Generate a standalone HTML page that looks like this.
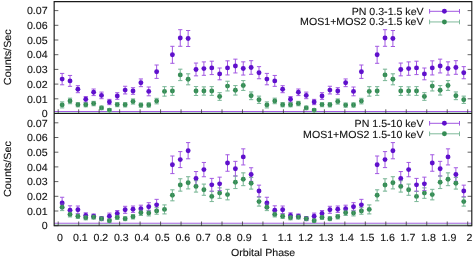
<!DOCTYPE html>
<html><head><meta charset="utf-8"><title>Orbital Phase Light Curves</title>
<style>html,body{margin:0;padding:0;background:#fff;}body{width:473px;height:257px;overflow:hidden;font-family:"Liberation Sans",sans-serif;}</style>
</head><body>
<svg width="473" height="257" viewBox="0 0 473 257" style="display:block;will-change:transform">
<rect width="473" height="257" fill="#fff"/>
<path d="M54.15 111.45H471.8" stroke="#a258e2" stroke-width="1.05"/>
<path d="M54.15 112.5H471.8" stroke="#b9dcc8" stroke-width="1"/>
<path d="M54.15 223.3H471.8" stroke="#a258e2" stroke-width="1.05"/>
<path d="M54.15 224.4H471.8" stroke="#b9dcc8" stroke-width="1"/>
<path d="M62.14 101.90V107.90M60.04 101.90h4.2M60.04 107.90h4.2M70.01 98.20V103.70M67.91 98.20h4.2M67.91 103.70h4.2M77.89 102.60V106.80M75.79 102.60h4.2M75.79 106.80h4.2M85.76 102.60V106.80M83.66 102.60h4.2M83.66 106.80h4.2M93.64 101.35V105.75M91.54 101.35h4.2M91.54 105.75h4.2M101.51 106.10V109.70M99.41 106.10h4.2M99.41 109.70h4.2M109.39 108.60V111.60M107.29 108.60h4.2M107.29 111.60h4.2M117.26 102.50V106.70M115.16 102.50h4.2M115.16 106.70h4.2M125.14 102.70V106.90M123.04 102.70h4.2M123.04 106.90h4.2M133.01 98.95V104.05M130.91 98.95h4.2M130.91 104.05h4.2M140.89 103.00V107.20M138.79 103.00h4.2M138.79 107.20h4.2M148.76 102.90V107.10M146.66 102.90h4.2M146.66 107.10h4.2M156.64 98.35V103.85M154.54 98.35h4.2M154.54 103.85h4.2M164.51 86.65V96.15M162.41 86.65h4.2M162.41 96.15h4.2M172.39 86.60V95.40M170.29 86.60h4.2M170.29 95.40h4.2M180.26 69.20V80.60M178.16 69.20h4.2M178.16 80.60h4.2M188.14 73.80V84.80M186.04 73.80h4.2M186.04 84.80h4.2M196.01 86.50V95.50M193.91 86.50h4.2M193.91 95.50h4.2M203.89 86.85V95.15M201.79 86.85h4.2M201.79 95.15h4.2M211.76 86.60V95.40M209.66 86.60h4.2M209.66 95.40h4.2M219.64 92.65V100.35M217.54 92.65h4.2M217.54 100.35h4.2M227.51 81.25V90.95M225.41 81.25h4.2M225.41 90.95h4.2M235.39 85.55V95.05M233.29 85.55h4.2M233.29 95.05h4.2M243.26 80.55V90.45M241.16 80.55h4.2M241.16 90.45h4.2M251.14 91.95V99.65M249.04 91.95h4.2M249.04 99.65h4.2M259.01 96.15V103.45M256.91 96.15h4.2M256.91 103.45h4.2M266.89 101.90V107.90M264.79 101.90h4.2M264.79 107.90h4.2M274.76 98.20V103.70M272.66 98.20h4.2M272.66 103.70h4.2M282.64 102.60V106.80M280.54 102.60h4.2M280.54 106.80h4.2M290.51 102.60V106.80M288.41 102.60h4.2M288.41 106.80h4.2M298.39 101.35V105.75M296.29 101.35h4.2M296.29 105.75h4.2M306.26 106.10V109.70M304.16 106.10h4.2M304.16 109.70h4.2M314.14 108.60V111.60M312.04 108.60h4.2M312.04 111.60h4.2M322.01 102.50V106.70M319.91 102.50h4.2M319.91 106.70h4.2M329.89 102.70V106.90M327.79 102.70h4.2M327.79 106.90h4.2M337.76 98.95V104.05M335.66 98.95h4.2M335.66 104.05h4.2M345.64 103.00V107.20M343.54 103.00h4.2M343.54 107.20h4.2M353.51 102.90V107.10M351.41 102.90h4.2M351.41 107.10h4.2M361.39 98.35V103.85M359.29 98.35h4.2M359.29 103.85h4.2M369.26 86.65V96.15M367.16 86.65h4.2M367.16 96.15h4.2M377.14 86.60V95.40M375.04 86.60h4.2M375.04 95.40h4.2M385.01 69.20V80.60M382.91 69.20h4.2M382.91 80.60h4.2M392.89 73.80V84.80M390.79 73.80h4.2M390.79 84.80h4.2M400.76 86.50V95.50M398.66 86.50h4.2M398.66 95.50h4.2M408.64 86.85V95.15M406.54 86.85h4.2M406.54 95.15h4.2M416.51 86.60V95.40M414.41 86.60h4.2M414.41 95.40h4.2M424.39 92.65V100.35M422.29 92.65h4.2M422.29 100.35h4.2M432.26 81.25V90.95M430.16 81.25h4.2M430.16 90.95h4.2M440.14 85.55V95.05M438.04 85.55h4.2M438.04 95.05h4.2M448.01 80.55V90.45M445.91 80.55h4.2M445.91 90.45h4.2M455.89 91.95V99.65M453.79 91.95h4.2M453.79 99.65h4.2M463.76 96.15V103.45M461.66 96.15h4.2M461.66 103.45h4.2" stroke="#7fba9b" stroke-width="1" fill="none"/><path d="M62.14 73.40V84.80M60.04 73.40h4.2M60.04 84.80h4.2M70.01 75.45V86.35M67.91 75.45h4.2M67.91 86.35h4.2M77.89 85.70V92.70M75.79 85.70h4.2M75.79 92.70h4.2M85.76 96.55V102.05M83.66 96.55h4.2M83.66 102.05h4.2M93.64 89.00V95.60M91.54 89.00h4.2M91.54 95.60h4.2M101.51 92.10V98.70M99.41 92.10h4.2M99.41 98.70h4.2M109.39 99.35V104.65M107.29 99.35h4.2M107.29 104.65h4.2M117.26 92.70V99.30M115.16 92.70h4.2M115.16 99.30h4.2M125.14 86.25V93.95M123.04 86.25h4.2M123.04 93.95h4.2M133.01 87.70V94.30M130.91 87.70h4.2M130.91 94.30h4.2M140.89 78.95V86.65M138.79 78.95h4.2M138.79 86.65h4.2M148.76 87.00V95.80M146.66 87.00h4.2M146.66 95.80h4.2M156.64 65.00V78.40M154.54 65.00h4.2M154.54 78.40h4.2M172.39 46.30V63.30M170.29 46.30h4.2M170.29 63.30h4.2M180.26 29.70V46.30M178.16 29.70h4.2M178.16 46.30h4.2M188.14 30.50V46.50M186.04 30.50h4.2M186.04 46.50h4.2M196.01 63.05V75.85M193.91 63.05h4.2M193.91 75.85h4.2M203.89 61.90V75.30M201.79 61.90h4.2M201.79 75.30h4.2M211.76 61.20V74.60M209.66 61.20h4.2M209.66 74.60h4.2M219.64 68.00V79.80M217.54 68.00h4.2M217.54 79.80h4.2M227.51 60.85V74.95M225.41 60.85h4.2M225.41 74.95h4.2M235.39 59.15V72.95M233.29 59.15h4.2M233.29 72.95h4.2M243.26 61.85V75.05M241.16 61.85h4.2M241.16 75.05h4.2M251.14 60.70V74.30M249.04 60.70h4.2M249.04 74.30h4.2M259.01 66.65V78.75M256.91 66.65h4.2M256.91 78.75h4.2M266.89 73.40V84.80M264.79 73.40h4.2M264.79 84.80h4.2M274.76 75.45V86.35M272.66 75.45h4.2M272.66 86.35h4.2M282.64 85.70V92.70M280.54 85.70h4.2M280.54 92.70h4.2M290.51 96.55V102.05M288.41 96.55h4.2M288.41 102.05h4.2M298.39 89.00V95.60M296.29 89.00h4.2M296.29 95.60h4.2M306.26 92.10V98.70M304.16 92.10h4.2M304.16 98.70h4.2M314.14 99.35V104.65M312.04 99.35h4.2M312.04 104.65h4.2M322.01 92.70V99.30M319.91 92.70h4.2M319.91 99.30h4.2M329.89 86.25V93.95M327.79 86.25h4.2M327.79 93.95h4.2M337.76 87.70V94.30M335.66 87.70h4.2M335.66 94.30h4.2M345.64 78.95V86.65M343.54 78.95h4.2M343.54 86.65h4.2M353.51 87.00V95.80M351.41 87.00h4.2M351.41 95.80h4.2M361.39 65.00V78.40M359.29 65.00h4.2M359.29 78.40h4.2M377.14 46.30V63.30M375.04 46.30h4.2M375.04 63.30h4.2M385.01 29.70V46.30M382.91 29.70h4.2M382.91 46.30h4.2M392.89 30.50V46.50M390.79 30.50h4.2M390.79 46.50h4.2M400.76 63.05V75.85M398.66 63.05h4.2M398.66 75.85h4.2M408.64 61.90V75.30M406.54 61.90h4.2M406.54 75.30h4.2M416.51 61.20V74.60M414.41 61.20h4.2M414.41 74.60h4.2M424.39 68.00V79.80M422.29 68.00h4.2M422.29 79.80h4.2M432.26 60.85V74.95M430.16 60.85h4.2M430.16 74.95h4.2M440.14 59.15V72.95M438.04 59.15h4.2M438.04 72.95h4.2M448.01 61.85V75.05M445.91 61.85h4.2M445.91 75.05h4.2M455.89 60.70V74.30M453.79 60.70h4.2M453.79 74.30h4.2M463.76 66.65V78.75M461.66 66.65h4.2M461.66 78.75h4.2" stroke="#a258e2" stroke-width="1" fill="none"/><g fill="#5f10cc"><circle cx="62.14" cy="79.10" r="2.45"/><circle cx="70.01" cy="80.90" r="2.45"/><circle cx="77.89" cy="89.20" r="2.45"/><circle cx="85.76" cy="99.30" r="2.45"/><circle cx="93.64" cy="92.30" r="2.45"/><circle cx="101.51" cy="95.40" r="2.45"/><circle cx="109.39" cy="102.00" r="2.45"/><circle cx="117.26" cy="96.00" r="2.45"/><circle cx="125.14" cy="90.10" r="2.45"/><circle cx="133.01" cy="91.00" r="2.45"/><circle cx="140.89" cy="82.80" r="2.45"/><circle cx="148.76" cy="91.40" r="2.45"/><circle cx="156.64" cy="71.70" r="2.45"/><circle cx="172.39" cy="54.80" r="2.45"/><circle cx="180.26" cy="38.00" r="2.45"/><circle cx="188.14" cy="38.50" r="2.45"/><circle cx="196.01" cy="69.45" r="2.45"/><circle cx="203.89" cy="68.60" r="2.45"/><circle cx="211.76" cy="67.90" r="2.45"/><circle cx="219.64" cy="73.90" r="2.45"/><circle cx="227.51" cy="67.90" r="2.45"/><circle cx="235.39" cy="66.05" r="2.45"/><circle cx="243.26" cy="68.45" r="2.45"/><circle cx="251.14" cy="67.50" r="2.45"/><circle cx="259.01" cy="72.70" r="2.45"/><circle cx="266.89" cy="79.10" r="2.45"/><circle cx="274.76" cy="80.90" r="2.45"/><circle cx="282.64" cy="89.20" r="2.45"/><circle cx="290.51" cy="99.30" r="2.45"/><circle cx="298.39" cy="92.30" r="2.45"/><circle cx="306.26" cy="95.40" r="2.45"/><circle cx="314.14" cy="102.00" r="2.45"/><circle cx="322.01" cy="96.00" r="2.45"/><circle cx="329.89" cy="90.10" r="2.45"/><circle cx="337.76" cy="91.00" r="2.45"/><circle cx="345.64" cy="82.80" r="2.45"/><circle cx="353.51" cy="91.40" r="2.45"/><circle cx="361.39" cy="71.70" r="2.45"/><circle cx="377.14" cy="54.80" r="2.45"/><circle cx="385.01" cy="38.00" r="2.45"/><circle cx="392.89" cy="38.50" r="2.45"/><circle cx="400.76" cy="69.45" r="2.45"/><circle cx="408.64" cy="68.60" r="2.45"/><circle cx="416.51" cy="67.90" r="2.45"/><circle cx="424.39" cy="73.90" r="2.45"/><circle cx="432.26" cy="67.90" r="2.45"/><circle cx="440.14" cy="66.05" r="2.45"/><circle cx="448.01" cy="68.45" r="2.45"/><circle cx="455.89" cy="67.50" r="2.45"/><circle cx="463.76" cy="72.70" r="2.45"/></g><g fill="#348c54"><circle cx="62.14" cy="104.90" r="2.45"/><circle cx="70.01" cy="100.95" r="2.45"/><circle cx="77.89" cy="104.70" r="2.45"/><circle cx="85.76" cy="104.70" r="2.45"/><circle cx="93.64" cy="103.55" r="2.45"/><circle cx="101.51" cy="107.90" r="2.45"/><circle cx="109.39" cy="110.10" r="2.45"/><circle cx="117.26" cy="104.60" r="2.45"/><circle cx="125.14" cy="104.80" r="2.45"/><circle cx="133.01" cy="101.50" r="2.45"/><circle cx="140.89" cy="105.10" r="2.45"/><circle cx="148.76" cy="105.00" r="2.45"/><circle cx="156.64" cy="101.10" r="2.45"/><circle cx="164.51" cy="91.40" r="2.45"/><circle cx="172.39" cy="91.00" r="2.45"/><circle cx="180.26" cy="74.90" r="2.45"/><circle cx="188.14" cy="79.30" r="2.45"/><circle cx="196.01" cy="91.00" r="2.45"/><circle cx="203.89" cy="91.00" r="2.45"/><circle cx="211.76" cy="91.00" r="2.45"/><circle cx="219.64" cy="96.50" r="2.45"/><circle cx="227.51" cy="86.10" r="2.45"/><circle cx="235.39" cy="90.30" r="2.45"/><circle cx="243.26" cy="85.50" r="2.45"/><circle cx="251.14" cy="95.80" r="2.45"/><circle cx="259.01" cy="99.80" r="2.45"/><circle cx="266.89" cy="104.90" r="2.45"/><circle cx="274.76" cy="100.95" r="2.45"/><circle cx="282.64" cy="104.70" r="2.45"/><circle cx="290.51" cy="104.70" r="2.45"/><circle cx="298.39" cy="103.55" r="2.45"/><circle cx="306.26" cy="107.90" r="2.45"/><circle cx="314.14" cy="110.10" r="2.45"/><circle cx="322.01" cy="104.60" r="2.45"/><circle cx="329.89" cy="104.80" r="2.45"/><circle cx="337.76" cy="101.50" r="2.45"/><circle cx="345.64" cy="105.10" r="2.45"/><circle cx="353.51" cy="105.00" r="2.45"/><circle cx="361.39" cy="101.10" r="2.45"/><circle cx="369.26" cy="91.40" r="2.45"/><circle cx="377.14" cy="91.00" r="2.45"/><circle cx="385.01" cy="74.90" r="2.45"/><circle cx="392.89" cy="79.30" r="2.45"/><circle cx="400.76" cy="91.00" r="2.45"/><circle cx="408.64" cy="91.00" r="2.45"/><circle cx="416.51" cy="91.00" r="2.45"/><circle cx="424.39" cy="96.50" r="2.45"/><circle cx="432.26" cy="86.10" r="2.45"/><circle cx="440.14" cy="90.30" r="2.45"/><circle cx="448.01" cy="85.50" r="2.45"/><circle cx="455.89" cy="95.80" r="2.45"/><circle cx="463.76" cy="99.80" r="2.45"/></g><path d="M62.14 101.90V107.90M60.04 101.90h4.2M60.04 107.90h4.2M70.01 98.20V103.70M67.91 98.20h4.2M67.91 103.70h4.2M77.89 102.60V106.80M75.79 102.60h4.2M75.79 106.80h4.2M85.76 102.60V106.80M83.66 102.60h4.2M83.66 106.80h4.2M93.64 101.35V105.75M91.54 101.35h4.2M91.54 105.75h4.2M101.51 106.10V109.70M99.41 106.10h4.2M99.41 109.70h4.2M109.39 108.60V111.60M107.29 108.60h4.2M107.29 111.60h4.2M117.26 102.50V106.70M115.16 102.50h4.2M115.16 106.70h4.2M125.14 102.70V106.90M123.04 102.70h4.2M123.04 106.90h4.2M133.01 98.95V104.05M130.91 98.95h4.2M130.91 104.05h4.2M140.89 103.00V107.20M138.79 103.00h4.2M138.79 107.20h4.2M148.76 102.90V107.10M146.66 102.90h4.2M146.66 107.10h4.2M156.64 98.35V103.85M154.54 98.35h4.2M154.54 103.85h4.2M164.51 86.65V96.15M162.41 86.65h4.2M162.41 96.15h4.2M172.39 86.60V95.40M170.29 86.60h4.2M170.29 95.40h4.2M180.26 69.20V80.60M178.16 69.20h4.2M178.16 80.60h4.2M188.14 73.80V84.80M186.04 73.80h4.2M186.04 84.80h4.2M196.01 86.50V95.50M193.91 86.50h4.2M193.91 95.50h4.2M203.89 86.85V95.15M201.79 86.85h4.2M201.79 95.15h4.2M211.76 86.60V95.40M209.66 86.60h4.2M209.66 95.40h4.2M219.64 92.65V100.35M217.54 92.65h4.2M217.54 100.35h4.2M227.51 81.25V90.95M225.41 81.25h4.2M225.41 90.95h4.2M235.39 85.55V95.05M233.29 85.55h4.2M233.29 95.05h4.2M243.26 80.55V90.45M241.16 80.55h4.2M241.16 90.45h4.2M251.14 91.95V99.65M249.04 91.95h4.2M249.04 99.65h4.2M259.01 96.15V103.45M256.91 96.15h4.2M256.91 103.45h4.2M266.89 101.90V107.90M264.79 101.90h4.2M264.79 107.90h4.2M274.76 98.20V103.70M272.66 98.20h4.2M272.66 103.70h4.2M282.64 102.60V106.80M280.54 102.60h4.2M280.54 106.80h4.2M290.51 102.60V106.80M288.41 102.60h4.2M288.41 106.80h4.2M298.39 101.35V105.75M296.29 101.35h4.2M296.29 105.75h4.2M306.26 106.10V109.70M304.16 106.10h4.2M304.16 109.70h4.2M314.14 108.60V111.60M312.04 108.60h4.2M312.04 111.60h4.2M322.01 102.50V106.70M319.91 102.50h4.2M319.91 106.70h4.2M329.89 102.70V106.90M327.79 102.70h4.2M327.79 106.90h4.2M337.76 98.95V104.05M335.66 98.95h4.2M335.66 104.05h4.2M345.64 103.00V107.20M343.54 103.00h4.2M343.54 107.20h4.2M353.51 102.90V107.10M351.41 102.90h4.2M351.41 107.10h4.2M361.39 98.35V103.85M359.29 98.35h4.2M359.29 103.85h4.2M369.26 86.65V96.15M367.16 86.65h4.2M367.16 96.15h4.2M377.14 86.60V95.40M375.04 86.60h4.2M375.04 95.40h4.2M385.01 69.20V80.60M382.91 69.20h4.2M382.91 80.60h4.2M392.89 73.80V84.80M390.79 73.80h4.2M390.79 84.80h4.2M400.76 86.50V95.50M398.66 86.50h4.2M398.66 95.50h4.2M408.64 86.85V95.15M406.54 86.85h4.2M406.54 95.15h4.2M416.51 86.60V95.40M414.41 86.60h4.2M414.41 95.40h4.2M424.39 92.65V100.35M422.29 92.65h4.2M422.29 100.35h4.2M432.26 81.25V90.95M430.16 81.25h4.2M430.16 90.95h4.2M440.14 85.55V95.05M438.04 85.55h4.2M438.04 95.05h4.2M448.01 80.55V90.45M445.91 80.55h4.2M445.91 90.45h4.2M455.89 91.95V99.65M453.79 91.95h4.2M453.79 99.65h4.2M463.76 96.15V103.45M461.66 96.15h4.2M461.66 103.45h4.2" stroke="#7fba9b" stroke-width="1" fill="none" opacity="0.25"/>
<path d="M62.14 203.80V210.60M60.04 203.80h4.2M60.04 210.60h4.2M70.01 211.90V216.90M67.91 211.90h4.2M67.91 216.90h4.2M77.89 214.00V218.40M75.79 214.00h4.2M75.79 218.40h4.2M85.76 215.80V219.80M83.66 215.80h4.2M83.66 219.80h4.2M93.64 215.10V219.10M91.54 215.10h4.2M91.54 219.10h4.2M101.51 217.00V220.60M99.41 217.00h4.2M99.41 220.60h4.2M109.39 219.10V222.30M107.29 219.10h4.2M107.29 222.30h4.2M117.26 215.40V219.40M115.16 215.40h4.2M115.16 219.40h4.2M125.14 216.80V220.60M123.04 216.80h4.2M123.04 220.60h4.2M133.01 214.50V218.90M130.91 214.50h4.2M130.91 218.90h4.2M140.89 209.90V215.50M138.79 209.90h4.2M138.79 215.50h4.2M148.76 210.30V215.90M146.66 210.30h4.2M146.66 215.90h4.2M156.64 207.65V214.25M154.54 207.65h4.2M154.54 214.25h4.2M164.51 204.90V213.90M162.41 204.90h4.2M162.41 213.90h4.2M172.39 189.80V200.80M170.29 189.80h4.2M170.29 200.80h4.2M180.26 178.75V191.15M178.16 178.75h4.2M178.16 191.15h4.2M188.14 176.70V188.90M186.04 176.70h4.2M186.04 188.90h4.2M196.01 180.70V192.10M193.91 180.70h4.2M193.91 192.10h4.2M203.89 184.10V195.30M201.79 184.10h4.2M201.79 195.30h4.2M211.76 191.25V201.55M209.66 191.25h4.2M209.66 201.55h4.2M219.64 187.85V198.35M217.54 187.85h4.2M217.54 198.35h4.2M227.51 189.35V199.85M225.41 189.35h4.2M225.41 199.85h4.2M235.39 175.95V188.55M233.29 175.95h4.2M233.29 188.55h4.2M243.26 172.85V185.65M241.16 172.85h4.2M241.16 185.65h4.2M251.14 177.50V189.10M249.04 177.50h4.2M249.04 189.10h4.2M259.01 197.10V206.10M256.91 197.10h4.2M256.91 206.10h4.2M266.89 203.80V210.60M264.79 203.80h4.2M264.79 210.60h4.2M274.76 211.90V216.90M272.66 211.90h4.2M272.66 216.90h4.2M282.64 214.00V218.40M280.54 214.00h4.2M280.54 218.40h4.2M290.51 215.80V219.80M288.41 215.80h4.2M288.41 219.80h4.2M298.39 215.10V219.10M296.29 215.10h4.2M296.29 219.10h4.2M306.26 217.00V220.60M304.16 217.00h4.2M304.16 220.60h4.2M314.14 219.10V222.30M312.04 219.10h4.2M312.04 222.30h4.2M322.01 215.40V219.40M319.91 215.40h4.2M319.91 219.40h4.2M329.89 216.80V220.60M327.79 216.80h4.2M327.79 220.60h4.2M337.76 214.50V218.90M335.66 214.50h4.2M335.66 218.90h4.2M345.64 209.90V215.50M343.54 209.90h4.2M343.54 215.50h4.2M353.51 210.30V215.90M351.41 210.30h4.2M351.41 215.90h4.2M361.39 207.65V214.25M359.29 207.65h4.2M359.29 214.25h4.2M369.26 204.90V213.90M367.16 204.90h4.2M367.16 213.90h4.2M377.14 189.80V200.80M375.04 189.80h4.2M375.04 200.80h4.2M385.01 178.75V191.15M382.91 178.75h4.2M382.91 191.15h4.2M392.89 176.70V188.90M390.79 176.70h4.2M390.79 188.90h4.2M400.76 180.70V192.10M398.66 180.70h4.2M398.66 192.10h4.2M408.64 184.10V195.30M406.54 184.10h4.2M406.54 195.30h4.2M416.51 191.25V201.55M414.41 191.25h4.2M414.41 201.55h4.2M424.39 187.85V198.35M422.29 187.85h4.2M422.29 198.35h4.2M432.26 189.35V199.85M430.16 189.35h4.2M430.16 199.85h4.2M440.14 175.95V188.55M438.04 175.95h4.2M438.04 188.55h4.2M448.01 172.85V185.65M445.91 172.85h4.2M445.91 185.65h4.2M455.89 177.50V189.10M453.79 177.50h4.2M453.79 189.10h4.2M463.76 197.10V206.10M461.66 197.10h4.2M461.66 206.10h4.2" stroke="#7fba9b" stroke-width="1" fill="none"/><path d="M62.14 197.25V208.65M60.04 197.25h4.2M60.04 208.65h4.2M70.01 205.80V214.80M67.91 205.80h4.2M67.91 214.80h4.2M77.89 206.00V213.60M75.79 206.00h4.2M75.79 213.60h4.2M85.76 212.80V218.00M83.66 212.80h4.2M83.66 218.00h4.2M93.64 214.00V218.40M91.54 214.00h4.2M91.54 218.40h4.2M101.51 216.60V220.60M99.41 216.60h4.2M99.41 220.60h4.2M109.39 213.10V219.30M107.29 213.10h4.2M107.29 219.30h4.2M117.26 210.50V216.30M115.16 210.50h4.2M115.16 216.30h4.2M125.14 206.30V213.30M123.04 206.30h4.2M123.04 213.30h4.2M133.01 206.00V212.40M130.91 206.00h4.2M130.91 212.40h4.2M140.89 205.20V212.40M138.79 205.20h4.2M138.79 212.40h4.2M148.76 202.70V210.90M146.66 202.70h4.2M146.66 210.90h4.2M156.64 199.35V210.35M154.54 199.35h4.2M154.54 210.35h4.2M172.39 156.00V173.60M170.29 156.00h4.2M170.29 173.60h4.2M180.26 151.60V167.60M178.16 151.60h4.2M178.16 167.60h4.2M188.14 142.60V158.80M186.04 142.60h4.2M186.04 158.80h4.2M196.01 171.55V185.25M193.91 171.55h4.2M193.91 185.25h4.2M203.89 162.45V176.75M201.79 162.45h4.2M201.79 176.75h4.2M211.76 178.40V191.30M209.66 178.40h4.2M209.66 191.30h4.2M219.64 177.15V190.55M217.54 177.15h4.2M217.54 190.55h4.2M227.51 154.75V171.25M225.41 154.75h4.2M225.41 171.25h4.2M235.39 161.35V176.05M233.29 161.35h4.2M233.29 176.05h4.2M243.26 148.85V164.95M241.16 148.85h4.2M241.16 164.95h4.2M251.14 167.75V181.35M249.04 167.75h4.2M249.04 181.35h4.2M259.01 185.15V196.75M256.91 185.15h4.2M256.91 196.75h4.2M266.89 197.25V208.65M264.79 197.25h4.2M264.79 208.65h4.2M274.76 205.80V214.80M272.66 205.80h4.2M272.66 214.80h4.2M282.64 206.00V213.60M280.54 206.00h4.2M280.54 213.60h4.2M290.51 212.80V218.00M288.41 212.80h4.2M288.41 218.00h4.2M298.39 214.00V218.40M296.29 214.00h4.2M296.29 218.40h4.2M306.26 216.60V220.60M304.16 216.60h4.2M304.16 220.60h4.2M314.14 213.10V219.30M312.04 213.10h4.2M312.04 219.30h4.2M322.01 210.50V216.30M319.91 210.50h4.2M319.91 216.30h4.2M329.89 206.30V213.30M327.79 206.30h4.2M327.79 213.30h4.2M337.76 206.00V212.40M335.66 206.00h4.2M335.66 212.40h4.2M345.64 205.20V212.40M343.54 205.20h4.2M343.54 212.40h4.2M353.51 202.70V210.90M351.41 202.70h4.2M351.41 210.90h4.2M361.39 199.35V210.35M359.29 199.35h4.2M359.29 210.35h4.2M377.14 156.00V173.60M375.04 156.00h4.2M375.04 173.60h4.2M385.01 151.60V167.60M382.91 151.60h4.2M382.91 167.60h4.2M392.89 142.60V158.80M390.79 142.60h4.2M390.79 158.80h4.2M400.76 171.55V185.25M398.66 171.55h4.2M398.66 185.25h4.2M408.64 162.45V176.75M406.54 162.45h4.2M406.54 176.75h4.2M416.51 178.40V191.30M414.41 178.40h4.2M414.41 191.30h4.2M424.39 177.15V190.55M422.29 177.15h4.2M422.29 190.55h4.2M432.26 154.75V171.25M430.16 154.75h4.2M430.16 171.25h4.2M440.14 161.35V176.05M438.04 161.35h4.2M438.04 176.05h4.2M448.01 148.85V164.95M445.91 148.85h4.2M445.91 164.95h4.2M455.89 167.75V181.35M453.79 167.75h4.2M453.79 181.35h4.2M463.76 185.15V196.75M461.66 185.15h4.2M461.66 196.75h4.2" stroke="#a258e2" stroke-width="1" fill="none"/><g fill="#5f10cc"><circle cx="62.14" cy="202.95" r="2.45"/><circle cx="70.01" cy="210.30" r="2.45"/><circle cx="77.89" cy="209.80" r="2.45"/><circle cx="85.76" cy="215.40" r="2.45"/><circle cx="93.64" cy="216.20" r="2.45"/><circle cx="101.51" cy="218.60" r="2.45"/><circle cx="109.39" cy="216.20" r="2.45"/><circle cx="117.26" cy="213.40" r="2.45"/><circle cx="125.14" cy="209.80" r="2.45"/><circle cx="133.01" cy="209.20" r="2.45"/><circle cx="140.89" cy="208.80" r="2.45"/><circle cx="148.76" cy="206.80" r="2.45"/><circle cx="156.64" cy="204.85" r="2.45"/><circle cx="172.39" cy="164.80" r="2.45"/><circle cx="180.26" cy="159.60" r="2.45"/><circle cx="188.14" cy="150.70" r="2.45"/><circle cx="196.01" cy="178.40" r="2.45"/><circle cx="203.89" cy="169.60" r="2.45"/><circle cx="211.76" cy="184.85" r="2.45"/><circle cx="219.64" cy="183.85" r="2.45"/><circle cx="227.51" cy="163.00" r="2.45"/><circle cx="235.39" cy="168.70" r="2.45"/><circle cx="243.26" cy="156.90" r="2.45"/><circle cx="251.14" cy="174.55" r="2.45"/><circle cx="259.01" cy="190.95" r="2.45"/><circle cx="266.89" cy="202.95" r="2.45"/><circle cx="274.76" cy="210.30" r="2.45"/><circle cx="282.64" cy="209.80" r="2.45"/><circle cx="290.51" cy="215.40" r="2.45"/><circle cx="298.39" cy="216.20" r="2.45"/><circle cx="306.26" cy="218.60" r="2.45"/><circle cx="314.14" cy="216.20" r="2.45"/><circle cx="322.01" cy="213.40" r="2.45"/><circle cx="329.89" cy="209.80" r="2.45"/><circle cx="337.76" cy="209.20" r="2.45"/><circle cx="345.64" cy="208.80" r="2.45"/><circle cx="353.51" cy="206.80" r="2.45"/><circle cx="361.39" cy="204.85" r="2.45"/><circle cx="377.14" cy="164.80" r="2.45"/><circle cx="385.01" cy="159.60" r="2.45"/><circle cx="392.89" cy="150.70" r="2.45"/><circle cx="400.76" cy="178.40" r="2.45"/><circle cx="408.64" cy="169.60" r="2.45"/><circle cx="416.51" cy="184.85" r="2.45"/><circle cx="424.39" cy="183.85" r="2.45"/><circle cx="432.26" cy="163.00" r="2.45"/><circle cx="440.14" cy="168.70" r="2.45"/><circle cx="448.01" cy="156.90" r="2.45"/><circle cx="455.89" cy="174.55" r="2.45"/><circle cx="463.76" cy="190.95" r="2.45"/></g><g fill="#348c54"><circle cx="62.14" cy="207.20" r="2.45"/><circle cx="70.01" cy="214.40" r="2.45"/><circle cx="77.89" cy="216.20" r="2.45"/><circle cx="85.76" cy="217.80" r="2.45"/><circle cx="93.64" cy="217.10" r="2.45"/><circle cx="101.51" cy="218.80" r="2.45"/><circle cx="109.39" cy="220.70" r="2.45"/><circle cx="117.26" cy="217.40" r="2.45"/><circle cx="125.14" cy="218.70" r="2.45"/><circle cx="133.01" cy="216.70" r="2.45"/><circle cx="140.89" cy="212.70" r="2.45"/><circle cx="148.76" cy="213.10" r="2.45"/><circle cx="156.64" cy="210.95" r="2.45"/><circle cx="164.51" cy="209.40" r="2.45"/><circle cx="172.39" cy="195.30" r="2.45"/><circle cx="180.26" cy="184.95" r="2.45"/><circle cx="188.14" cy="182.80" r="2.45"/><circle cx="196.01" cy="186.40" r="2.45"/><circle cx="203.89" cy="189.70" r="2.45"/><circle cx="211.76" cy="196.40" r="2.45"/><circle cx="219.64" cy="193.10" r="2.45"/><circle cx="227.51" cy="194.60" r="2.45"/><circle cx="235.39" cy="182.25" r="2.45"/><circle cx="243.26" cy="179.25" r="2.45"/><circle cx="251.14" cy="183.30" r="2.45"/><circle cx="259.01" cy="201.60" r="2.45"/><circle cx="266.89" cy="207.20" r="2.45"/><circle cx="274.76" cy="214.40" r="2.45"/><circle cx="282.64" cy="216.20" r="2.45"/><circle cx="290.51" cy="217.80" r="2.45"/><circle cx="298.39" cy="217.10" r="2.45"/><circle cx="306.26" cy="218.80" r="2.45"/><circle cx="314.14" cy="220.70" r="2.45"/><circle cx="322.01" cy="217.40" r="2.45"/><circle cx="329.89" cy="218.70" r="2.45"/><circle cx="337.76" cy="216.70" r="2.45"/><circle cx="345.64" cy="212.70" r="2.45"/><circle cx="353.51" cy="213.10" r="2.45"/><circle cx="361.39" cy="210.95" r="2.45"/><circle cx="369.26" cy="209.40" r="2.45"/><circle cx="377.14" cy="195.30" r="2.45"/><circle cx="385.01" cy="184.95" r="2.45"/><circle cx="392.89" cy="182.80" r="2.45"/><circle cx="400.76" cy="186.40" r="2.45"/><circle cx="408.64" cy="189.70" r="2.45"/><circle cx="416.51" cy="196.40" r="2.45"/><circle cx="424.39" cy="193.10" r="2.45"/><circle cx="432.26" cy="194.60" r="2.45"/><circle cx="440.14" cy="182.25" r="2.45"/><circle cx="448.01" cy="179.25" r="2.45"/><circle cx="455.89" cy="183.30" r="2.45"/><circle cx="463.76" cy="201.60" r="2.45"/></g><path d="M62.14 203.80V210.60M60.04 203.80h4.2M60.04 210.60h4.2M70.01 211.90V216.90M67.91 211.90h4.2M67.91 216.90h4.2M77.89 214.00V218.40M75.79 214.00h4.2M75.79 218.40h4.2M85.76 215.80V219.80M83.66 215.80h4.2M83.66 219.80h4.2M93.64 215.10V219.10M91.54 215.10h4.2M91.54 219.10h4.2M101.51 217.00V220.60M99.41 217.00h4.2M99.41 220.60h4.2M109.39 219.10V222.30M107.29 219.10h4.2M107.29 222.30h4.2M117.26 215.40V219.40M115.16 215.40h4.2M115.16 219.40h4.2M125.14 216.80V220.60M123.04 216.80h4.2M123.04 220.60h4.2M133.01 214.50V218.90M130.91 214.50h4.2M130.91 218.90h4.2M140.89 209.90V215.50M138.79 209.90h4.2M138.79 215.50h4.2M148.76 210.30V215.90M146.66 210.30h4.2M146.66 215.90h4.2M156.64 207.65V214.25M154.54 207.65h4.2M154.54 214.25h4.2M164.51 204.90V213.90M162.41 204.90h4.2M162.41 213.90h4.2M172.39 189.80V200.80M170.29 189.80h4.2M170.29 200.80h4.2M180.26 178.75V191.15M178.16 178.75h4.2M178.16 191.15h4.2M188.14 176.70V188.90M186.04 176.70h4.2M186.04 188.90h4.2M196.01 180.70V192.10M193.91 180.70h4.2M193.91 192.10h4.2M203.89 184.10V195.30M201.79 184.10h4.2M201.79 195.30h4.2M211.76 191.25V201.55M209.66 191.25h4.2M209.66 201.55h4.2M219.64 187.85V198.35M217.54 187.85h4.2M217.54 198.35h4.2M227.51 189.35V199.85M225.41 189.35h4.2M225.41 199.85h4.2M235.39 175.95V188.55M233.29 175.95h4.2M233.29 188.55h4.2M243.26 172.85V185.65M241.16 172.85h4.2M241.16 185.65h4.2M251.14 177.50V189.10M249.04 177.50h4.2M249.04 189.10h4.2M259.01 197.10V206.10M256.91 197.10h4.2M256.91 206.10h4.2M266.89 203.80V210.60M264.79 203.80h4.2M264.79 210.60h4.2M274.76 211.90V216.90M272.66 211.90h4.2M272.66 216.90h4.2M282.64 214.00V218.40M280.54 214.00h4.2M280.54 218.40h4.2M290.51 215.80V219.80M288.41 215.80h4.2M288.41 219.80h4.2M298.39 215.10V219.10M296.29 215.10h4.2M296.29 219.10h4.2M306.26 217.00V220.60M304.16 217.00h4.2M304.16 220.60h4.2M314.14 219.10V222.30M312.04 219.10h4.2M312.04 222.30h4.2M322.01 215.40V219.40M319.91 215.40h4.2M319.91 219.40h4.2M329.89 216.80V220.60M327.79 216.80h4.2M327.79 220.60h4.2M337.76 214.50V218.90M335.66 214.50h4.2M335.66 218.90h4.2M345.64 209.90V215.50M343.54 209.90h4.2M343.54 215.50h4.2M353.51 210.30V215.90M351.41 210.30h4.2M351.41 215.90h4.2M361.39 207.65V214.25M359.29 207.65h4.2M359.29 214.25h4.2M369.26 204.90V213.90M367.16 204.90h4.2M367.16 213.90h4.2M377.14 189.80V200.80M375.04 189.80h4.2M375.04 200.80h4.2M385.01 178.75V191.15M382.91 178.75h4.2M382.91 191.15h4.2M392.89 176.70V188.90M390.79 176.70h4.2M390.79 188.90h4.2M400.76 180.70V192.10M398.66 180.70h4.2M398.66 192.10h4.2M408.64 184.10V195.30M406.54 184.10h4.2M406.54 195.30h4.2M416.51 191.25V201.55M414.41 191.25h4.2M414.41 201.55h4.2M424.39 187.85V198.35M422.29 187.85h4.2M422.29 198.35h4.2M432.26 189.35V199.85M430.16 189.35h4.2M430.16 199.85h4.2M440.14 175.95V188.55M438.04 175.95h4.2M438.04 188.55h4.2M448.01 172.85V185.65M445.91 172.85h4.2M445.91 185.65h4.2M455.89 177.50V189.10M453.79 177.50h4.2M453.79 189.10h4.2M463.76 197.10V206.10M461.66 197.10h4.2M461.66 206.10h4.2" stroke="#7fba9b" stroke-width="1" fill="none" opacity="0.25"/>
<path d="M58.20 113.5v-4.2M58.20 225.7v-4.2M78.68 113.5v-4.2M78.68 225.7v-4.2M99.15 113.5v-4.2M99.15 225.7v-4.2M119.63 113.5v-4.2M119.63 225.7v-4.2M140.10 113.5v-4.2M140.10 225.7v-4.2M160.57 113.5v-4.2M160.57 225.7v-4.2M181.05 113.5v-4.2M181.05 225.7v-4.2M201.53 113.5v-4.2M201.53 225.7v-4.2M222.00 113.5v-4.2M222.00 225.7v-4.2M242.48 113.5v-4.2M242.48 225.7v-4.2M262.95 113.5v-4.2M262.95 225.7v-4.2M283.43 113.5v-4.2M283.43 225.7v-4.2M303.90 113.5v-4.2M303.90 225.7v-4.2M324.38 113.5v-4.2M324.38 225.7v-4.2M344.85 113.5v-4.2M344.85 225.7v-4.2M365.32 113.5v-4.2M365.32 225.7v-4.2M385.80 113.5v-4.2M385.80 225.7v-4.2M406.28 113.5v-4.2M406.28 225.7v-4.2M426.75 113.5v-4.2M426.75 225.7v-4.2M447.23 113.5v-4.2M447.23 225.7v-4.2M467.70 113.5v-4.2M467.70 225.7v-4.2M54.15 113.50h4.2M471.8 113.50h-4.2M54.15 225.70h4.2M471.8 225.70h-4.2M54.15 98.80h4.2M471.8 98.80h-4.2M54.15 211.00h4.2M471.8 211.00h-4.2M54.15 84.10h4.2M471.8 84.10h-4.2M54.15 196.30h4.2M471.8 196.30h-4.2M54.15 69.40h4.2M471.8 69.40h-4.2M54.15 181.60h4.2M471.8 181.60h-4.2M54.15 54.70h4.2M471.8 54.70h-4.2M54.15 166.90h4.2M471.8 166.90h-4.2M54.15 40.00h4.2M471.8 40.00h-4.2M54.15 152.20h4.2M471.8 152.20h-4.2M54.15 25.30h4.2M471.8 25.30h-4.2M54.15 137.50h4.2M471.8 137.50h-4.2M54.15 10.60h4.2M471.8 10.60h-4.2M54.15 122.80h4.2M471.8 122.80h-4.2" stroke="#3a3a3a" stroke-width="0.8" fill="none"/>
<path d="M54.15 1.55H471.8V225.7H54.15ZM54.15 113.5H471.8" stroke="#1a1a1a" stroke-width="1.15" fill="none"/>
<g font-family="'Liberation Sans', sans-serif" font-size="10.3" fill="#111" stroke="#111" stroke-width="0.12" text-rendering="geometricPrecision">
<text transform="translate(47.60 117.25) scale(1.0300 1)" text-anchor="end">0</text>
<text transform="translate(47.60 229.45) scale(1.0300 1)" text-anchor="end">0</text>
<text transform="translate(47.60 102.55) scale(1.0300 1)" text-anchor="end">0.01</text>
<text transform="translate(47.60 214.75) scale(1.0300 1)" text-anchor="end">0.01</text>
<text transform="translate(47.60 87.85) scale(1.0300 1)" text-anchor="end">0.02</text>
<text transform="translate(47.60 200.05) scale(1.0300 1)" text-anchor="end">0.02</text>
<text transform="translate(47.60 73.15) scale(1.0300 1)" text-anchor="end">0.03</text>
<text transform="translate(47.60 185.35) scale(1.0300 1)" text-anchor="end">0.03</text>
<text transform="translate(47.60 58.45) scale(1.0300 1)" text-anchor="end">0.04</text>
<text transform="translate(47.60 170.65) scale(1.0300 1)" text-anchor="end">0.04</text>
<text transform="translate(47.60 43.75) scale(1.0300 1)" text-anchor="end">0.05</text>
<text transform="translate(47.60 155.95) scale(1.0300 1)" text-anchor="end">0.05</text>
<text transform="translate(47.60 29.05) scale(1.0300 1)" text-anchor="end">0.06</text>
<text transform="translate(47.60 141.25) scale(1.0300 1)" text-anchor="end">0.06</text>
<text transform="translate(47.60 14.35) scale(1.0300 1)" text-anchor="end">0.07</text>
<text transform="translate(47.60 126.55) scale(1.0300 1)" text-anchor="end">0.07</text>
<text transform="translate(59.90 240.50) scale(1.0300 1)" text-anchor="middle">0</text>
<text transform="translate(80.38 240.50) scale(1.0300 1)" text-anchor="middle">0.1</text>
<text transform="translate(100.85 240.50) scale(1.0300 1)" text-anchor="middle">0.2</text>
<text transform="translate(121.33 240.50) scale(1.0300 1)" text-anchor="middle">0.3</text>
<text transform="translate(141.80 240.50) scale(1.0300 1)" text-anchor="middle">0.4</text>
<text transform="translate(162.27 240.50) scale(1.0300 1)" text-anchor="middle">0.5</text>
<text transform="translate(182.75 240.50) scale(1.0300 1)" text-anchor="middle">0.6</text>
<text transform="translate(203.23 240.50) scale(1.0300 1)" text-anchor="middle">0.7</text>
<text transform="translate(223.70 240.50) scale(1.0300 1)" text-anchor="middle">0.8</text>
<text transform="translate(244.18 240.50) scale(1.0300 1)" text-anchor="middle">0.9</text>
<text transform="translate(264.65 240.50) scale(1.0300 1)" text-anchor="middle">1</text>
<text transform="translate(285.12 240.50) scale(1.0300 1)" text-anchor="middle">1.1</text>
<text transform="translate(305.60 240.50) scale(1.0300 1)" text-anchor="middle">1.2</text>
<text transform="translate(326.07 240.50) scale(1.0300 1)" text-anchor="middle">1.3</text>
<text transform="translate(346.55 240.50) scale(1.0300 1)" text-anchor="middle">1.4</text>
<text transform="translate(367.02 240.50) scale(1.0300 1)" text-anchor="middle">1.5</text>
<text transform="translate(387.50 240.50) scale(1.0300 1)" text-anchor="middle">1.6</text>
<text transform="translate(407.98 240.50) scale(1.0300 1)" text-anchor="middle">1.7</text>
<text transform="translate(428.45 240.50) scale(1.0300 1)" text-anchor="middle">1.8</text>
<text transform="translate(448.93 240.50) scale(1.0300 1)" text-anchor="middle">1.9</text>
<text transform="translate(469.40 240.50) scale(1.0300 1)" text-anchor="middle">2</text>
<text transform="translate(263.10 255.80) scale(1.0300 1)" text-anchor="middle">Orbital Phase</text>
<text transform="translate(10.50 57.20) rotate(-90) scale(1.0506 1)" text-anchor="middle">Counts/Sec</text>
<text transform="translate(10.50 169.00) rotate(-90) scale(1.0506 1)" text-anchor="middle">Counts/Sec</text>
<text transform="translate(423.60 14.60) scale(1.0300 1)" text-anchor="end">PN 0.3-1.5 keV</text>
<text transform="translate(423.60 25.40) scale(1.0300 1)" text-anchor="end">MOS1+MOS2 0.3-1.5 keV</text>
<text transform="translate(423.60 126.80) scale(1.0300 1)" text-anchor="end">PN 1.5-10 keV</text>
<text transform="translate(423.60 137.50) scale(1.0300 1)" text-anchor="end">MOS1+MOS2 1.5-10 keV</text>
</g>
<path d="M429.6 11.3H459.5M429.6 9.0v4.6M459.5 9.0v4.6" stroke="#a258e2" stroke-width="1" fill="none"/><circle cx="444.4" cy="11.3" r="2.45" fill="#5f10cc"/>
<path d="M429.6 21.95H459.5M429.6 19.65v4.6M459.5 19.65v4.6" stroke="#7fba9b" stroke-width="1" fill="none"/><circle cx="444.4" cy="21.95" r="2.45" fill="#348c54"/>
<path d="M429.6 123.3H459.5M429.6 121.0v4.6M459.5 121.0v4.6" stroke="#a258e2" stroke-width="1" fill="none"/><circle cx="444.4" cy="123.3" r="2.45" fill="#5f10cc"/>
<path d="M429.6 133.8H459.5M429.6 131.5v4.6M459.5 131.5v4.6" stroke="#7fba9b" stroke-width="1" fill="none"/><circle cx="444.4" cy="133.8" r="2.45" fill="#348c54"/>
</svg>
</body></html>
